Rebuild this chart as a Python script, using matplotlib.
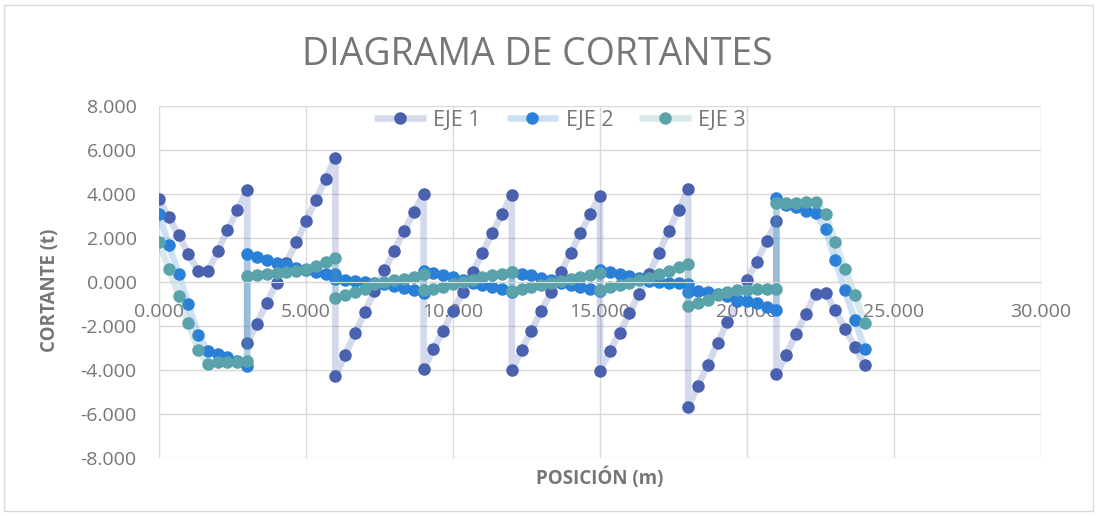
import matplotlib
matplotlib.use("Agg")
import matplotlib.pyplot as plt
from matplotlib.ticker import FuncFormatter, MultipleLocator
from matplotlib.patches import Rectangle

# Positions along the beam (m): 8 spans of 3 m, 10 stations each
posicion = [
    0.00, 0.33, 0.67, 1.00, 1.33, 1.67, 2.00, 2.33, 2.67, 3.00,
    3.00, 3.33, 3.67, 4.00, 4.33, 4.67, 5.00, 5.33, 5.67, 6.00,
    6.00, 6.33, 6.67, 7.00, 7.33, 7.67, 8.00, 8.33, 8.67, 9.00,
    9.00, 9.33, 9.67, 10.00, 10.33, 10.67, 11.00, 11.33, 11.67, 12.00,
    12.00, 12.33, 12.67, 13.00, 13.33, 13.67, 14.00, 14.33, 14.67, 15.00,
    15.00, 15.33, 15.67, 16.00, 16.33, 16.67, 17.00, 17.33, 17.67, 18.00,
    18.00, 18.33, 18.67, 19.00, 19.33, 19.67, 20.00, 20.33, 20.67, 21.00,
    21.00, 21.33, 21.67, 22.00, 22.33, 22.67, 23.00, 23.33, 23.67, 24.00,
]

eje_1 = [
    3.76, 2.94, 2.12, 1.29, 0.49, 0.50, 1.42, 2.36, 3.27, 4.17,
    -2.79, -1.89, -0.94, -0.05, 0.87, 1.80, 2.75, 3.73, 4.69, 5.65,
    -4.26, -3.30, -2.33, -1.37, -0.41, 0.53, 1.42, 2.30, 3.17, 4.02,
    -3.96, -3.06, -2.21, -1.32, -0.46, 0.44, 1.32, 2.21, 3.09, 3.97,
    -4.00, -3.09, -2.21, -1.32, -0.46, 0.44, 1.32, 2.21, 3.09, 3.93,
    -4.03, -3.15, -2.31, -1.42, -0.53, 0.38, 1.32, 2.30, 3.27, 4.23,
    -5.68, -4.72, -3.76, -2.77, -1.83, -0.87, 0.08, 0.93, 1.86, 2.75,
    -4.19, -3.30, -2.36, -1.45, -0.53, -0.49, -1.29, -2.13, -2.94, -3.76,
]

eje_2 = [
    3.07, 1.70, 0.35, -1.02, -2.42, -3.15, -3.27, -3.42, -3.61, -3.80,
    1.28, 1.14, 1.00, 0.87, 0.75, 0.63, 0.55, 0.45, 0.38, 0.35,
    0.12, 0.10, 0.06, 0.02, -0.04, -0.10, -0.18, -0.26, -0.36, -0.48,
    0.50, 0.40, 0.32, 0.22, 0.10, -0.03, -0.12, -0.22, -0.33, -0.45,
    0.45, 0.38, 0.30, 0.20, 0.08, -0.05, -0.15, -0.23, -0.30, -0.40,
    0.55, 0.45, 0.36, 0.26, 0.18, 0.05, -0.02, -0.05, -0.06, -0.10,
    -0.45, -0.42, -0.46, -0.53, -0.65, -0.81, -0.87, -0.96, -1.14, -1.29,
    3.81, 3.51, 3.40, 3.24, 3.12, 2.39, 1.02, -0.38, -1.72, -3.04,
]

eje_3 = [
    1.83, 0.61, -0.64, -1.86, -3.07, -3.73, -3.65, -3.62, -3.62, -3.58,
    0.27, 0.33, 0.38, 0.41, 0.46, 0.50, 0.61, 0.73, 0.91, 1.10,
    -0.72, -0.58, -0.46, -0.30, -0.08, 0.00, 0.08, 0.15, 0.23, 0.35,
    -0.38, -0.30, -0.23, -0.11, 0.00, 0.11, 0.23, 0.32, 0.38, 0.46,
    -0.41, -0.30, -0.23, -0.15, -0.05, 0.05, 0.15, 0.23, 0.30, 0.41,
    -0.35, -0.22, -0.12, -0.03, 0.08, 0.20, 0.35, 0.50, 0.68, 0.81,
    -1.07, -0.96, -0.84, -0.61, -0.46, -0.38, -0.35, -0.30, -0.30, -0.30,
    3.61, 3.61, 3.61, 3.62, 3.65, 3.08, 1.83, 0.61, -0.61, -1.87,
]

series = [("EJE 1", eje_1, "#4961AE"), ("EJE 2", eje_2, "#2A80D9"), ("EJE 3", eje_3, "#5BA3AB")]

plt.rcParams["font.family"] = ["Open Sans", "DejaVu Sans"]
gray = "#767676"

fig = plt.figure(figsize=(10.98, 5.16), dpi=100)
fig.patch.set_facecolor("white")
fig.patches.append(Rectangle((4 / 1098, 5 / 516), 1089 / 1098, 506 / 516, transform=fig.transFigure,
                             fill=False, edgecolor="#D9D9D9", linewidth=1))

ax = fig.add_axes([0.1448, 0.1124, 0.8033, 0.6822])
for name, vals, c in series:
    ax.plot(posicion, vals, color=matplotlib.colors.to_rgba(c, 0.23), lw=4.8,
            marker="o", ms=8, mfc=c, mec=c, label=name, solid_capstyle="butt")

ax.set_xlim(0, 30)
ax.set_ylim(-8, 8)
ax.xaxis.set_major_locator(MultipleLocator(5))
ax.yaxis.set_major_locator(MultipleLocator(2))
fmt = FuncFormatter(lambda v, _: f"{v:.3f}")
ax.xaxis.set_major_formatter(fmt)
ax.yaxis.set_major_formatter(fmt)
ax.grid(True, color="#D9D9D9", lw=1)
ax.set_axisbelow(True)
for s in ["top", "right", "left"]:
    ax.spines[s].set_visible(False)
ax.spines["bottom"].set_position(("data", 0))
ax.spines["bottom"].set_color("#D9D9D9")
ax.tick_params(axis="x", length=0, pad=15, labelsize=14, labelcolor=gray)
ax.tick_params(axis="y", length=0, pad=16, labelsize=14, labelcolor=gray)

fig.text(0.489, 0.893, "DIAGRAMA DE CORTANTES", ha="center", va="center", fontsize=27, color=gray)
fig.text(0.5464, 0.0736, "POSICIÓN (m)", ha="center", va="center", fontsize=13.5, fontweight="bold", color=gray)
fig.text(0.0455, 0.437, "CORTANTE (t)", ha="center", va="center", rotation=90, fontsize=13.5,
         fontweight="bold", color=gray)

leg = ax.legend(loc="center", bbox_to_anchor=(0.51, 0.7674), bbox_transform=fig.transFigure, ncol=3,
                frameon=False, fontsize=15.5, handlelength=2.4, handletextpad=0.35, columnspacing=1.2)
for t in leg.get_texts():
    t.set_color(gray)

fig.savefig("out.png", dpi=100)
